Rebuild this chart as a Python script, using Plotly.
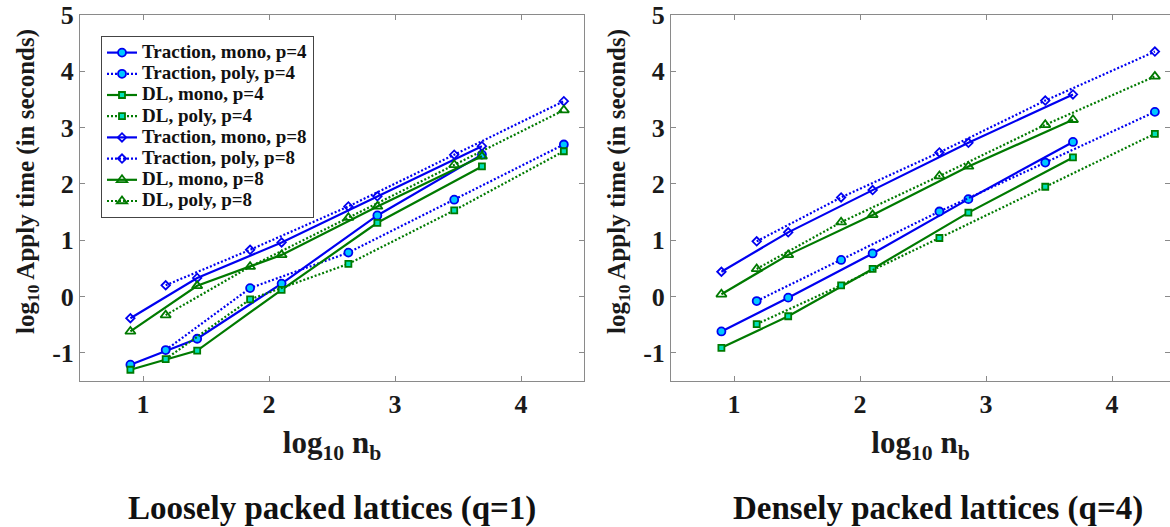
import plotly.graph_objects as go

# ---------------- data ----------------
x_mono = [0.90, 1.43, 2.10, 2.86, 3.69]
x_poly = [1.18, 1.85, 2.63, 3.47, 4.34]

series_names = [
    "Traction, mono, p=4", "Traction, poly, p=4",
    "DL, mono, p=4", "DL, poly, p=4",
    "Traction, mono, p=8", "Traction, poly, p=8",
    "DL, mono, p=8", "DL, poly, p=8",
]

# Loosely packed lattices (q=1)
q1_trac_mono_p4 = [-1.21, -0.75, 0.23, 1.44, 2.52]
q1_trac_poly_p4 = [-0.95, 0.15, 0.78, 1.72, 2.70]
q1_dl_mono_p4 = [-1.30, -0.96, 0.12, 1.31, 2.31]
q1_dl_poly_p4 = [-1.11, -0.05, 0.58, 1.53, 2.58]
q1_trac_mono_p8 = [-0.385, 0.33, 0.96, 1.78, 2.67]
q1_trac_poly_p8 = [0.20, 0.83, 1.60, 2.52, 3.47]
q1_dl_mono_p8 = [-0.62, 0.19, 0.74, 1.60, 2.49]
q1_dl_poly_p8 = [-0.33, 0.53, 1.40, 2.34, 3.31]

# Densely packed lattices (q=4)
q4_trac_mono_p4 = [-0.62, -0.02, 0.765, 1.73, 2.745]
q4_trac_poly_p4 = [-0.08, 0.65, 1.51, 2.38, 3.28]
q4_dl_mono_p4 = [-0.91, -0.35, 0.49, 1.49, 2.47]
q4_dl_poly_p4 = [-0.49, 0.20, 1.04, 1.95, 2.89]
q4_trac_mono_p8 = [0.44, 1.14, 1.89, 2.73, 3.59]
q4_trac_poly_p8 = [0.98, 1.76, 2.56, 3.48, 4.35]
q4_dl_mono_p8 = [0.04, 0.74, 1.45, 2.31, 3.14]
q4_dl_poly_p8 = [0.49, 1.32, 2.14, 3.05, 3.91]

x_ticks = [1, 2, 3, 4]
x_ticklabels = ["1", "2", "3", "4"]
y_ticks = [-1, 0, 1, 2, 3, 4, 5]
y_ticklabels = ["-1", "0", "1", "2", "3", "4", "5"]
x_title = "log<sub>10</sub> n<sub>b</sub>"
y_title = "log<sub>10</sub> Apply time (in seconds)"
subtitles = ["Loosely packed lattices (q=1)", "Densely packed lattices (q=4)"]

# ---------------- styles ----------------
BLUE = "#0000F0"
GREEN = "#007A00"
CIRC_FILL = "#00C8FF"
SQ_FILL = "#00E0B8"
FONT = "Liberation Serif, Times New Roman, Times, serif"
TXT = "#1a1a1a"

styles = [
    dict(color=BLUE, dash="solid", symbol="circle", fill=CIRC_FILL, size=8),
    dict(color=BLUE, dash="2px,2px", symbol="circle", fill=CIRC_FILL, size=8),
    dict(color=GREEN, dash="solid", symbol="square", fill=SQ_FILL, size=6),
    dict(color=GREEN, dash="2px,2px", symbol="square", fill=SQ_FILL, size=6),
    dict(color=BLUE, dash="solid", symbol="diamond-open", fill=None, size=6.5),
    dict(color=BLUE, dash="2px,2px", symbol="diamond-open", fill=None, size=6.5),
    dict(color=GREEN, dash="solid", symbol="triangle-up-open", fill=None, size=9),
    dict(color=GREEN, dash="2px,2px", symbol="triangle-up-open", fill=None, size=9),
]

panels = [
    ([q1_trac_mono_p4, q1_trac_poly_p4, q1_dl_mono_p4, q1_dl_poly_p4,
      q1_trac_mono_p8, q1_trac_poly_p8, q1_dl_mono_p8, q1_dl_poly_p8], "x", "y"),
    ([q4_trac_mono_p4, q4_trac_poly_p4, q4_dl_mono_p4, q4_dl_poly_p4,
      q4_trac_mono_p8, q4_trac_poly_p8, q4_dl_mono_p8, q4_dl_poly_p8], "x2", "y2"),
]

fig = go.Figure()
for pi, (ys, xa, ya) in enumerate(panels):
    for i, (name, yv, st) in enumerate(zip(series_names, ys, styles)):
        xv = x_mono if "mono" in name else x_poly
        marker = dict(symbol=st["symbol"], size=st["size"],
                      line=dict(color=st["color"], width=1.8))
        marker["color"] = st["fill"] if st["fill"] else st["color"]
        fig.add_trace(go.Scatter(
            x=xv, y=yv,
            name='<span style="font-size:19px">' + name + '</span>',
            mode="lines+markers",
            line=dict(color=st["color"], width=2.2, dash=st["dash"]),
            marker=marker, xaxis=xa, yaxis=ya,
            showlegend=(pi == 0),
        ))

W, H = 1170, 527
ydom = [1 - 381 / H, 1 - 15 / H]
axis_common = dict(
    showline=True, linecolor="#8a8a8a", linewidth=1, mirror="ticks",
    ticks="inside", ticklen=5, tickcolor="#8a8a8a", showgrid=False,
    zeroline=False, automargin=False,
    tickfont=dict(family=FONT, size=26, color=TXT, weight="bold"),
)
xtitle = dict(text=x_title,
              font=dict(family=FONT, size=31, color=TXT, weight="bold"),
              standoff=13)

fig.update_layout(
    template="none",
    width=W, height=H, margin=dict(l=0, r=0, t=0, b=0, autoexpand=False),
    paper_bgcolor="white", plot_bgcolor="white",
    xaxis=dict(domain=[80 / W, 584 / W], range=[0.5, 4.5], tickvals=x_ticks,
               ticktext=x_ticklabels, anchor="y", title=xtitle, **axis_common),
    yaxis=dict(domain=ydom, range=[-1.5, 5], tickvals=y_ticks, ticktext=y_ticklabels,
               anchor="x", **axis_common),
    xaxis2=dict(domain=[671 / W, 1.0], range=[0.5, 4.46], tickvals=x_ticks,
                ticktext=x_ticklabels, anchor="y2", title=xtitle, **axis_common),
    yaxis2=dict(domain=ydom, range=[-1.5, 5], tickvals=y_ticks, ticktext=y_ticklabels,
                anchor="x2", **axis_common),
    legend=dict(x=101 / W, y=1 - 36 / H, xanchor="left", yanchor="top",
                bgcolor="white", bordercolor="#444444", borderwidth=1,
                font=dict(family=FONT, size=14, color="#111111", weight="bold"),
                tracegroupgap=0, itemwidth=30),
    showlegend=True,
)

# y-axis titles (rotated), placed like the original figure
for xc in [27, 618]:
    fig.add_annotation(text=y_title, xref="paper", yref="paper", x=xc / W, y=1 - 182 / H,
                       xanchor="center", yanchor="middle", showarrow=False, textangle=-90,
                       font=dict(family=FONT, size=25, color=TXT, weight="bold"))

for txt, xc in zip(subtitles, [332, 938]):
    fig.add_annotation(text=txt, xref="paper", yref="paper", x=xc / W, y=1 - 508 / H,
                       xanchor="center", yanchor="middle", showarrow=False,
                       font=dict(family=FONT, size=33, color="#111111", weight="bold"))

fig.write_html("out.html", config={"displayModeBar": False},
               post_script="document.body.style.margin='0';document.body.style.overflow='hidden';")
